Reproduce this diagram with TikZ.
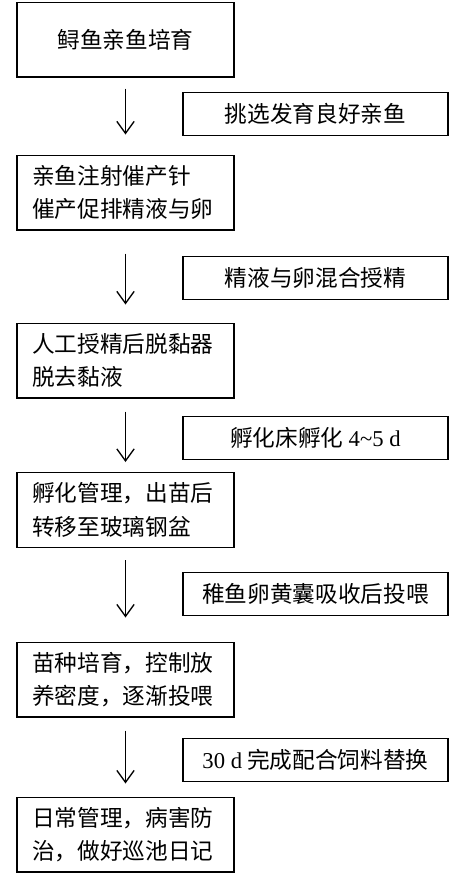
\documentclass[tikz,border=0pt]{standalone}
\usepackage{fontspec}
\newfontfamily\cjk{Noto Sans CJK SC}
\newfontfamily\lat{Liberation Serif}
\usepackage{tikz}
\usetikzlibrary{arrows.meta}

\tikzset{
  stepbox/.style={draw, line width=1pt, minimum width=162.75pt, minimum height=56pt,
    inner xsep=11pt, text width=140pt, align=left,
    font=\cjk\fontsize{17}{25}\selectfont},
  notebox/.style={draw, line width=1pt, minimum width=198.75pt, minimum height=32pt,
    inner sep=0pt, align=center, font=\cjk\fontsize{17}{25}\selectfont},
  flow/.style={line width=1pt, -{Straight Barb[length=9pt,width=13pt,line width=1pt]}}
}

\begin{document}
\begin{tikzpicture}[x=0.75pt,y=-0.75pt]
  \useasboundingbox (0,0) rectangle (456,876);
  % left column: steps
  \node[stepbox, align=center] (b1) at (125.5,39.5) {鲟鱼亲鱼培育};
  \node[stepbox] (b2) at (125.5,192.5) {亲鱼注射催产针\\催产促排精液与卵};
  \node[stepbox] (b3) at (125.5,360.5) {人工授精后脱黏器\\脱去黏液};
  \node[stepbox] (b4) at (125.5,510) {孵化管理，出苗后\\转移至玻璃钢盆};
  \node[stepbox] (b5) at (125.5,679.5) {苗种培育，控制放\\养密度，逐渐投喂};
  \node[stepbox] (b6) at (125.5,834.5) {日常管理，病害防\\治，做好巡池日记};
  % right column: notes
  \node[notebox] (n1) at (315.5,114) {挑选发育良好亲鱼};
  \node[notebox] (n2) at (315.5,278) {精液与卵混合授精};
  \node[notebox] (n3) at (315.5,438) {孵化床孵化 {\lat 4\textasciitilde5 d}};
  \node[notebox] (n4) at (315.5,594) {稚鱼卵黄囊吸收后投喂};
  \node[notebox] (n5) at (315.5,760) {{\lat 30 d} 完成配合饲料替换};
  % arrows
  \foreach \a/\b/\s/\e in {b1/b2/8.25pt/15pt, b2/b3/17.25pt/13.5pt, b3/b4/9.75pt/7.5pt,
                           b4/b5/9pt/18pt, b5/b6/9.75pt/9.75pt}
    \draw[flow, shorten <=\s, shorten >=\e] (\a) -- (\b);
\end{tikzpicture}
\end{document}
